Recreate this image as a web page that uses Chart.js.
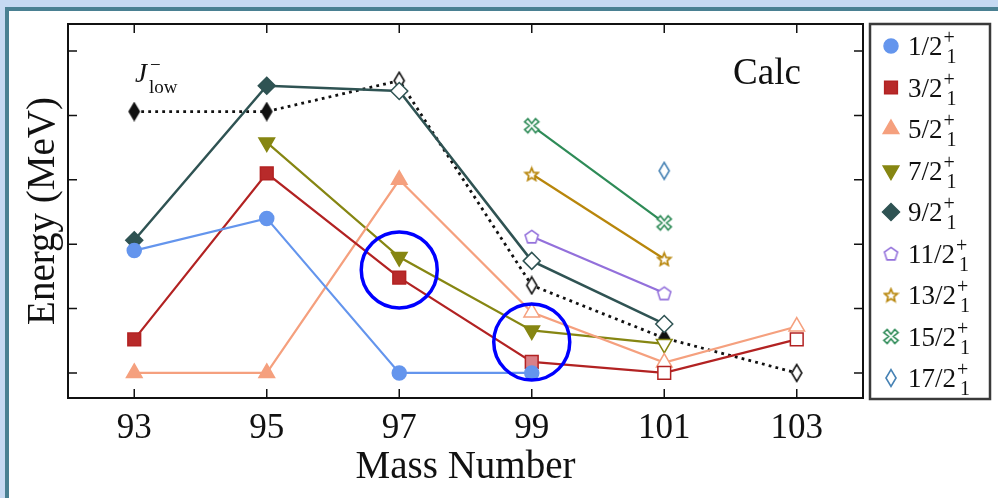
<!DOCTYPE html>
<html>
<head>
<meta charset="utf-8">
<script src="https://cdn.jsdelivr.net/npm/chart.js@4.4.0/dist/chart.umd.min.js"></script>
<style>
  html, body { margin: 0; padding: 0; background: #c6d9f2; overflow: hidden; }
  #frame { position: absolute; left: 5px; top: 7px; width: 1000px; height: 500px;
           background: #fff; border-left: 4px solid #4a8092; border-top: 4px solid #4a8092; }
  #chart { position: absolute; left: 0; top: 0; }
</style>
</head>
<body>
<div id="frame"></div>
<canvas id="chart" width="998" height="498"></canvas>
<script>
// data (MeV, tick step 0.5)
var massNumbers = [93, 95, 97, 99, 101, 103];
var labels = ["1/2", "3/2", "5/2", "7/2", "9/2", "11/2", "13/2", "15/2", "17/2"];
var e1_2  = [0.95, 1.20, 0.00, 0.00, null, null];
var e3_2  = [0.26, 1.55, 0.74, 0.085, 0.00, 0.26];
var e5_2  = [0.00, 0.00, 1.50, 0.47, 0.08, 0.36];
var e7_2  = [null, 1.79, 0.90, 0.33, 0.225, null];
var e9_2  = [1.03, 2.23, 2.19, 0.87, 0.38, null];
var e11_2 = [null, null, null, 1.06, 0.62, null];
var e13_2 = [null, null, null, 1.545, 0.885, null];
var e15_2 = [null, null, null, 1.92, 1.165, null];
var e17_2 = [null, null, null, null, 1.57, null];
var jLow  = [2.03, 2.03, 2.27, 0.68, 0.27, 0.00];
// highlighted points (circled)
var circleX = [97, 99];
var circleY = [0.80, 0.24];

var SERIF = "'Liberation Serif', 'DejaVu Serif', serif";

function pts(arr) {
	var out = [];
	for (var i = 0; i < arr.length; i++) {
		if (arr[i] !== null) out.push({ x: massNumbers[i], y: arr[i] });
	}
	return out;
}

// custom marker shapes drawn on small canvases
function marker(kind, color, fill, size, lw) {
	var c = document.createElement("canvas");
	c.width = size; c.height = size;
	var g = c.getContext("2d");
	var m = size / 2, r = size / 2 - lw;
	g.beginPath();
	if (kind == "pentagon") {
		for (var i = 0; i < 5; i++) {
			var a = -Math.PI / 2 + i * 2 * Math.PI / 5;
			g.lineTo(m + r * Math.cos(a), m + r * Math.sin(a) + 0.8);
		}
	} else if (kind == "star") {
		for (var i = 0; i < 10; i++) {
			var a = -Math.PI / 2 + i * Math.PI / 5;
			var rr = i % 2 ? r * 0.45 : r;
			g.lineTo(m + rr * Math.cos(a), m + rr * Math.sin(a) + 0.8);
		}
	} else if (kind == "xcross") {
		var s = r * 0.3, pts2 = [
			[0, -s], [s * 1.6, -s * 3], [s * 3, -s * 1.6], [s, 0], [s * 3, s * 1.6], [s * 1.6, s * 3],
			[0, s], [-s * 1.6, s * 3], [-s * 3, s * 1.6], [-s, 0], [-s * 3, -s * 1.6], [-s * 1.6, -s * 3]];
		pts2.forEach(function (p) { g.lineTo(m + p[0], m + p[1]); });
	} else if (kind == "thin") {
		g.moveTo(m, lw); g.lineTo(m + r * 0.6, m); g.lineTo(m, size - lw); g.lineTo(m - r * 0.6, m);
	}
	g.closePath();
	g.fillStyle = fill; g.fill();
	g.lineWidth = lw; g.strokeStyle = color; g.stroke();
	return c;
}

var pentagon = marker("pentagon", "#9370db", "#fff", 17, 1.6);
var star = marker("star", "#b8860b", "#fff", 17, 1.7);
var xcross = marker("xcross", "#2e8b57", "#fff", 19, 1.6);
var thinBlue = marker("thin", "#4682b4", "#fff", 20, 1.6);
var thinBlack = marker("thin", "#111", "#111", 20, 1.6);
var thinOpen = marker("thin", "#111", "#fff", 20, 1.6);

function series(label, arr, color, style, fills, radius, extra) {
	var ds = {
		label: label,
		data: pts(arr),
		borderColor: color,
		backgroundColor: color,
		borderWidth: 2.2,
		pointStyle: style,
		pointRadius: radius,
		pointBackgroundColor: fills,
		pointBorderColor: color,
		pointBorderWidth: 1.5,
		tension: 0
	};
	for (var k in extra) ds[k] = extra[k];
	return ds;
}

var W = "#ffffff";
var datasets = [
	series("1/2", e1_2, "#6495ed", "circle", "#6495ed", 7, {}),
	series("3/2", e3_2, "#b22222", "rect", ["#b82a2a", "#b82a2a", "#b82a2a", "#d98088", W, W], 9, {}),
	series("5/2", e5_2, "#f5a07e", "triangle", ["#f5a07e", "#f5a07e", "#f5a07e", W, W, W], 9, {}),
	series("7/2", e7_2, "#868612", "triangle", ["#868612", "#868612", "#868612", W], 9, { pointRotation: 180 }),
	series("9/2", e9_2, "#2f5353", "rectRot", ["#2f5353", "#2f5353", W, W, W], 8.5, { borderWidth: 2.5 }),
	series("11/2", e11_2, "#9370db", pentagon, W, 8, {}),
	series("13/2", e13_2, "#b8860b", star, W, 8, {}),
	series("15/2", e15_2, "#2e8b57", xcross, W, 9, {}),
	series("17/2", e17_2, "#4682b4", thinBlue, W, 10, { showLine: false }),
	{
		label: "Jlow",
		data: pts(jLow),
		borderColor: "#111",
		borderWidth: 2.8,
		borderDash: [2.8, 4.2],
		pointStyle: [thinBlack, thinBlack, thinOpen, thinOpen, thinBlack, thinOpen],
		pointRadius: 10,
		order: 5
	},
	{
		label: "circles",
		data: circleX.map(function (x, i) { return { x: x, y: circleY[i] }; }),
		showLine: false,
		pointStyle: "circle",
		pointRadius: 38,
		pointBorderWidth: 3.5,
		pointBorderColor: "#0000ff",
		pointBackgroundColor: "rgba(0,0,0,0)",
		order: -1
	}
];

// frame, inward ticks, titles, annotations and the legend box
var decor = {
	id: "decor",
	afterDraw: function (chart) {
		var ctx = chart.ctx, a = chart.chartArea;
		var xs = chart.scales.x, ys = chart.scales.y;
		ctx.save();
		ctx.strokeStyle = "#111";
		ctx.lineWidth = 2;
		ctx.strokeRect(a.left, a.top, a.right - a.left, a.bottom - a.top);
		ctx.lineWidth = 1.5;
		ctx.beginPath();
		xs.ticks.forEach(function (t) {
			var x = xs.getPixelForValue(t.value);
			ctx.moveTo(x, a.top); ctx.lineTo(x, a.top + 9);
			ctx.moveTo(x, a.bottom); ctx.lineTo(x, a.bottom - 9);
		});
		ys.ticks.forEach(function (t) {
			var y = ys.getPixelForValue(t.value);
			ctx.moveTo(a.left, y); ctx.lineTo(a.left + 9, y);
			ctx.moveTo(a.right, y); ctx.lineTo(a.right - 9, y);
		});
		ctx.stroke();

		ctx.fillStyle = "#111";
		ctx.textAlign = "center";
		ctx.textBaseline = "alphabetic";
		ctx.font = "39px " + SERIF;
		ctx.fillText("Mass Number", (a.left + a.right) / 2, 478);
		ctx.save();
		ctx.translate(54, (a.top + a.bottom) / 2);
		ctx.rotate(-Math.PI / 2);
		ctx.fillText("Energy (MeV)", 0, 0);
		ctx.restore();

		ctx.font = "37px " + SERIF;
		ctx.fillText("Calc", 767, 84);

		ctx.textAlign = "left";
		ctx.font = "italic 27px " + SERIF;
		ctx.fillText("J", 135, 82);
		ctx.font = "19px " + SERIF;
		ctx.fillText("low", 149, 93);
		ctx.fillText("\u2212", 150, 71);

		// legend
		var lx = 870, ly = 24, lw = 120, lh = 375;
		ctx.lineWidth = 2.5;
		ctx.strokeStyle = "#3a3a3a";
		ctx.strokeRect(lx, ly, lw, lh);
		for (var i = 0; i < labels.length; i++) {
			var ds = chart.data.datasets[i];
			var y = 46 + i * 41.5;
			var fill = Array.isArray(ds.pointBackgroundColor) ? ds.pointBackgroundColor[0] : ds.pointBackgroundColor;
			ctx.fillStyle = fill;
			ctx.strokeStyle = ds.pointBorderColor;
			ctx.lineWidth = 1.5;
			Chart.helpers.drawPoint(ctx, {
				pointStyle: ds.pointStyle, radius: ds.pointRadius, rotation: ds.pointRotation || 0, borderWidth: 1.5
			}, 891, y);
			ctx.fillStyle = "#111";
			ctx.font = "27px " + SERIF;
			ctx.fillText(labels[i], 908, y + 9);
			var w = ctx.measureText(labels[i]).width;
			ctx.font = "20px " + SERIF;
			ctx.fillText("+", 908 + w + 1, y - 2);
			ctx.fillText("1", 908 + w + 4, y + 17);
		}
		ctx.restore();
	}
};

new Chart(document.getElementById("chart"), {
	type: "line",
	data: { datasets: datasets },
	options: {
		responsive: false,
		animation: false,
		layout: { autoPadding: false, padding: { left: 68, top: 24, right: 135, bottom: 0 } },
		plugins: { legend: { display: false }, tooltip: { enabled: false } },
		scales: {
			x: {
				type: "linear",
				min: 92, max: 104,
				grid: { display: false, drawTicks: false },
				border: { display: false },
				afterBuildTicks: function (s) { s.ticks = massNumbers.map(function (v) { return { value: v }; }); },
				afterFit: function (s) { s.height = 100; },
				ticks: { color: "#111", padding: 10, font: { family: SERIF, size: 35 } }
			},
			y: {
				min: -0.195, max: 2.71,
				grid: { display: false },
				border: { display: false },
				afterFit: function (s) { s.width = 0; },
				ticks: { display: false, stepSize: 0.5, includeBounds: false }
			}
		}
	},
	plugins: [decor]
});
</script>
</body>
</html>
